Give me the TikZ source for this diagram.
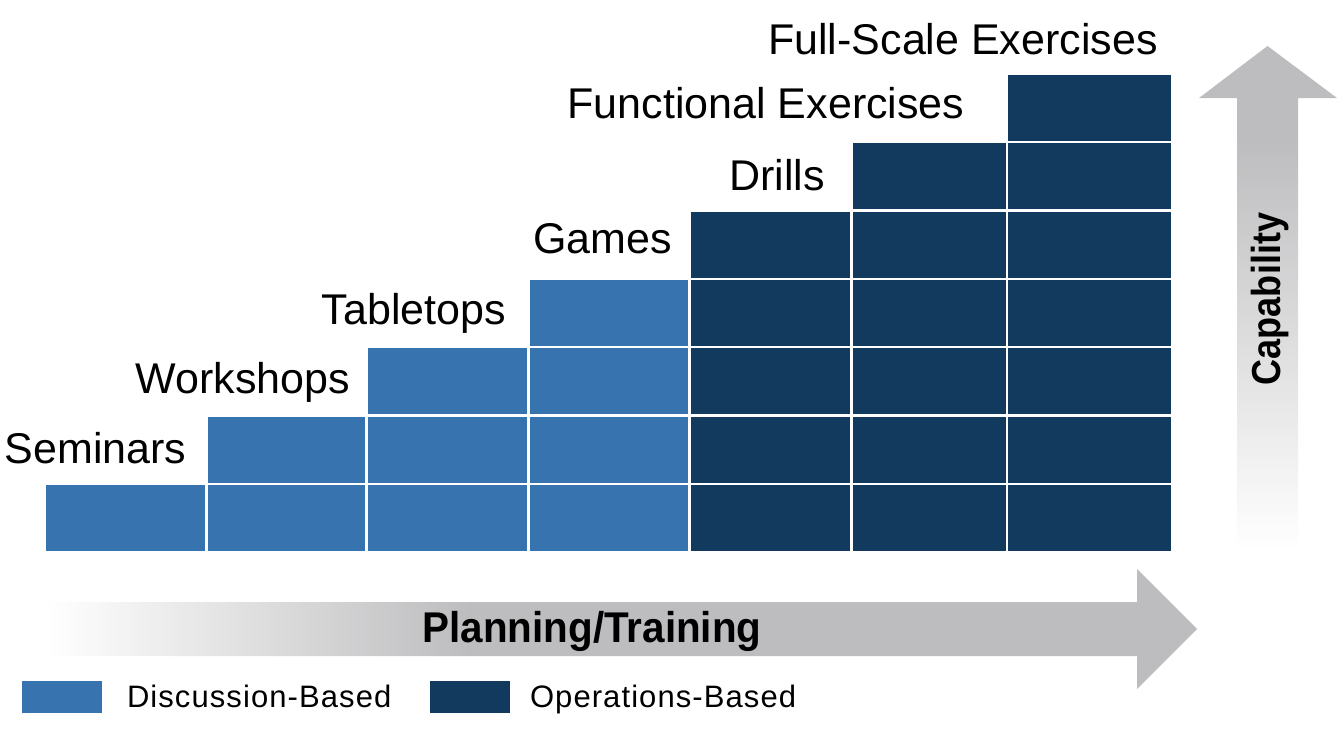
\documentclass[tikz,border=0pt]{standalone}
\usepackage{fontspec}
\setmainfont{Liberation Sans}
\newfontfamily\boldcond{Liberation Sans}[FakeStretch=0.94]
\newfontfamily\capfont{Liberation Sans}[FakeStretch=0.89]
\newfontfamily\legfont{Liberation Sans}[LetterSpace=3.5]
\definecolor{disc}{HTML}{3673AF}
\definecolor{oper}{HTML}{12395E}
\definecolor{arrowgray}{HTML}{BDBDBF}
\pgfdeclarehorizontalshading{harrowshade}{100bp}{color(0bp)=(white); color(25bp)=(white); color(43.4bp)=(arrowgray); color(100bp)=(arrowgray)}
\pgfdeclareverticalshading{varrowshade}{100bp}{color(0bp)=(white); color(25bp)=(white); color(65.7bp)=(arrowgray); color(100bp)=(arrowgray)}
\begin{document}
\begin{tikzpicture}[x=1pt,y=-1pt,
  cellbox/.style={inner sep=0, outer sep=0, draw=none, minimum height=66, anchor=north west},
  lbl/.style={inner sep=0, outer sep=0, anchor=base, font=\fontsize{43}{43}\selectfont},
  legbox/.style={inner sep=0, outer sep=0, draw=none, minimum width=80, minimum height=32, anchor=north west},
  legtext/.style={inner sep=0, outer sep=0, anchor=base west, font=\legfont\fontsize{31}{31}\selectfont}]
\useasboundingbox (0,0) rectangle (1341,736);
% horizontal arrow
\shade[shading=harrowshade] (46,602) -- (1137,602) -- (1137,569) -- (1197,629) -- (1137,689) -- (1137,656) -- (46,656) -- cycle;
% vertical arrow
\shade[shading=varrowshade] (1237,550) -- (1237,98) -- (1199,98) -- (1267.5,46) -- (1337,98) -- (1298,98) -- (1298,550) -- cycle;
% cells
\foreach \i/\l/\r/\c in {0/46/204.5/disc, 1/207.5/365/disc, 2/368/527/disc, 3/529.5/688/disc, 4/690.5/850/oper, 5/852.5/1005.5/oper, 6/1008/1171/oper}{
  \pgfmathsetmacro\w{\r-\l}
  \foreach \j in {0,...,\i}{
    \pgfmathsetmacro\t{485-68.33*\j}
    \node[cellbox, fill=\c, minimum width=\w] (c\i-\j) at (\l,\t) {};
  }
}
% labels
\node[lbl] (seminars) at (95.5,463) {Seminars};
\node[lbl] (workshops) at (243,393) {Workshops};
\node[lbl] (tabletops) at (414,324) {Tabletops};
\node[lbl] (games) at (602.5,253) {Games};
\node[lbl] (drills) at (777,190) {Drills};
\node[lbl] (functional) at (766,118) {Functional Exercises};
\node[lbl] (fullscale) at (963,54) {Full-Scale Exercises};
% arrow texts
\node[inner sep=0, anchor=base, font=\boldcond\bfseries\fontsize{43}{43}\selectfont] (planning) at (592,642) {Planning/Training};
\node[inner sep=0, anchor=base, rotate=90, font=\capfont\bfseries\fontsize{40.5}{40.5}\selectfont] (capability) at (1280,299) {Capability};
% legend
\node[legbox, fill=disc] (legdisc) at (22,681) {};
\node[legtext] (legdisctext) at (127,707) {Discussion-Based};
\node[legbox, fill=oper] (legoper) at (430,681) {};
\node[legtext] (legopertext) at (530,707) {Operations-Based};
\end{tikzpicture}
\end{document}
